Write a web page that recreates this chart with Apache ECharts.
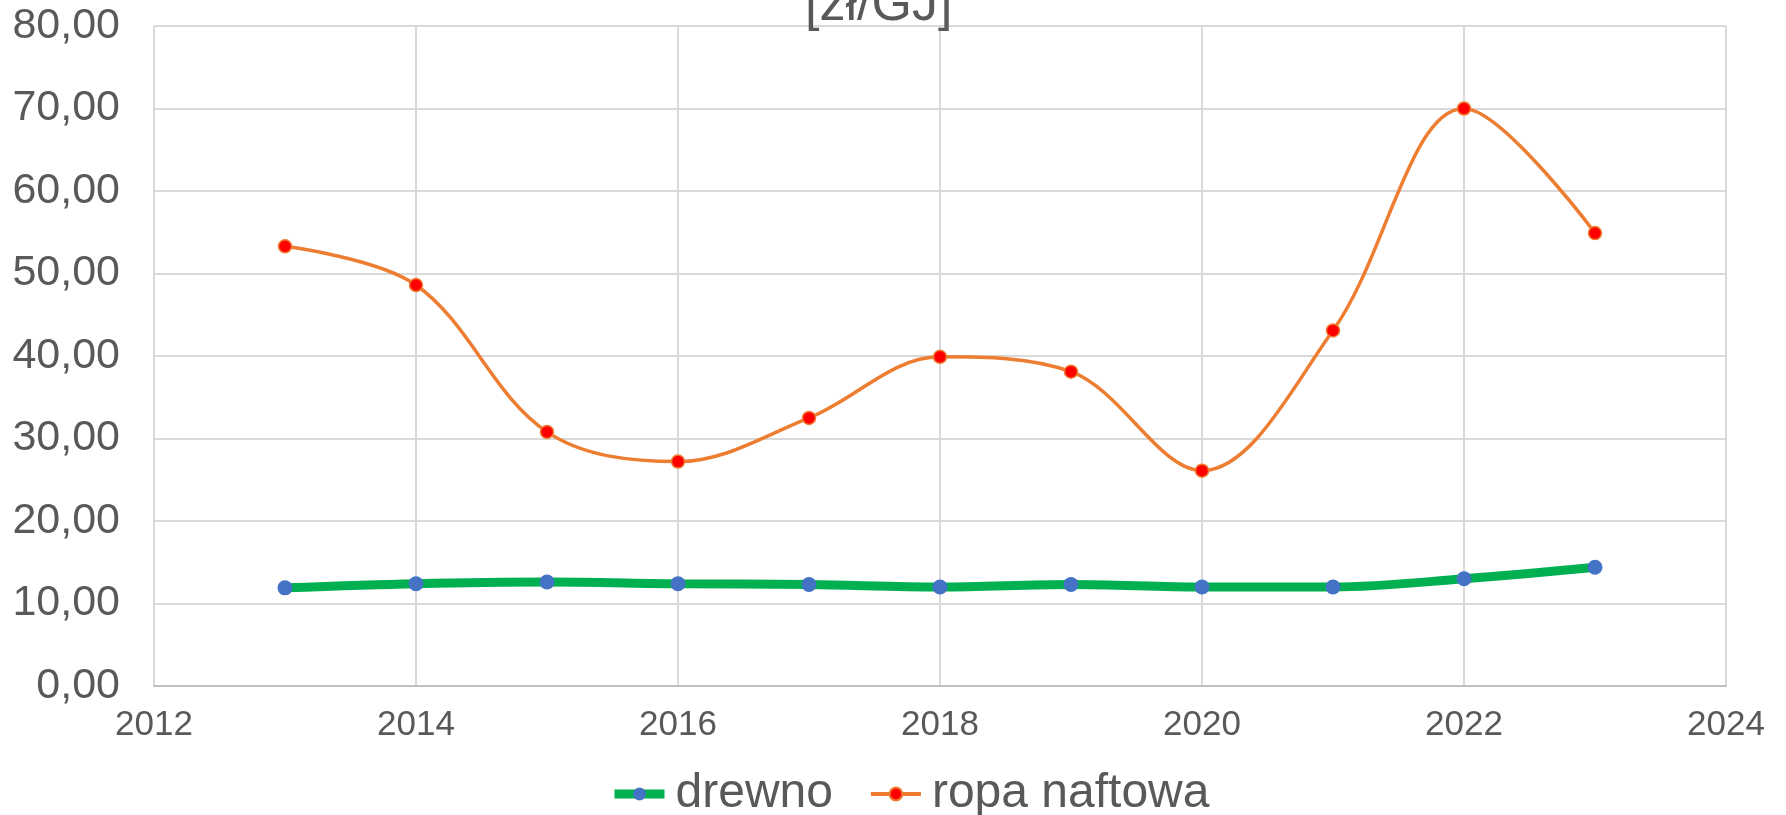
<!DOCTYPE html>
<html>
<head>
<meta charset="utf-8">
<script src="https://cdn.jsdelivr.net/npm/echarts@6/dist/echarts.min.js"></script>
<style>
  html, body { margin: 0; padding: 0; background: #fff; }
  #main { width: 1786px; height: 815px; }
</style>
</head>
<body>
<div id="main"></div>
<script>
// lata i wartości
var years = [2013, 2014, 2015, 2016, 2017, 2018, 2019, 2020, 2021, 2022, 2023];
var drewno = [11.9, 12.4, 12.6, 12.4, 12.3, 12.0, 12.3, 12.0, 12.0, 13.0, 14.4];
var ropaNaftowa = [53.3, 48.6, 30.8, 27.2, 32.5, 39.9, 38.1, 26.1, 43.1, 70.0, 54.9];
var seriesNames = ['drewno', 'ropa naftowa'];

function pairs(vals) {
	return years.map(function (y, i) { return [y, vals[i]]; });
}

var myChart = echarts.init(document.getElementById('main'));
var textColor = '#595959';
var font = 'Liberation Sans, Arial, sans-serif';

var option = {
	animation: false,
	backgroundColor: '#fff',
	title: {
		text: '[zł/GJ]',
		left: 800,
		top: -25,
		textStyle: { color: textColor, fontSize: 52, fontWeight: 'normal', fontFamily: font }
	},
	legend: {
		data: [
			{ name: seriesNames[0], lineStyle: { width: 9 } },
			{ name: seriesNames[1], lineStyle: { width: 4 } }
		],
		left: 605,
		bottom: -8,
		itemWidth: 50,
		itemHeight: 16,
		itemGap: 36,
		textStyle: { color: textColor, fontSize: 48, fontFamily: font, padding: [0, 0, 0, 6] }
	},
	grid: { left: 154, right: 60, top: 26, bottom: 129 },
	xAxis: {
		type: 'value',
		min: 2012,
		max: 2024,
		interval: 2,
		axisLine: { show: true, lineStyle: { color: '#bfbfbf', width: 2 } },
		axisTick: { show: false },
		splitLine: { show: true, lineStyle: { color: '#d9d9d9', width: 2 } },
		axisLabel: { color: textColor, fontSize: 35, fontFamily: font, margin: 22, formatter: function (v) { return String(v); } }
	},
	yAxis: {
		type: 'value',
		min: 0,
		max: 80,
		interval: 10,
		axisLine: { show: false },
		axisTick: { show: false },
		splitLine: { lineStyle: { color: '#d9d9d9', width: 2 } },
		axisLabel: { color: textColor, fontSize: 43, fontFamily: font, margin: 34,
			formatter: function (v) { return v.toFixed(2).replace('.', ','); } }
	},
	series: [{
		name: seriesNames[0],
		type: 'line',
		smooth: 0.35,
		data: pairs(drewno),
		symbol: 'circle',
		symbolSize: 15,
		lineStyle: { color: '#00B050', width: 9 },
		itemStyle: { color: '#4472C4', borderWidth: 0 }
	}, {
		name: seriesNames[1],
		type: 'line',
		smooth: 0.35,
		data: pairs(ropaNaftowa),
		symbol: 'circle',
		symbolSize: 13,
		lineStyle: { color: '#ED7D31', width: 3.5 },
		itemStyle: { color: '#FF0000', borderColor: '#ED7D31', borderWidth: 1.5 }
	}]
};

myChart.setOption(option);
</script>
</body>
</html>
